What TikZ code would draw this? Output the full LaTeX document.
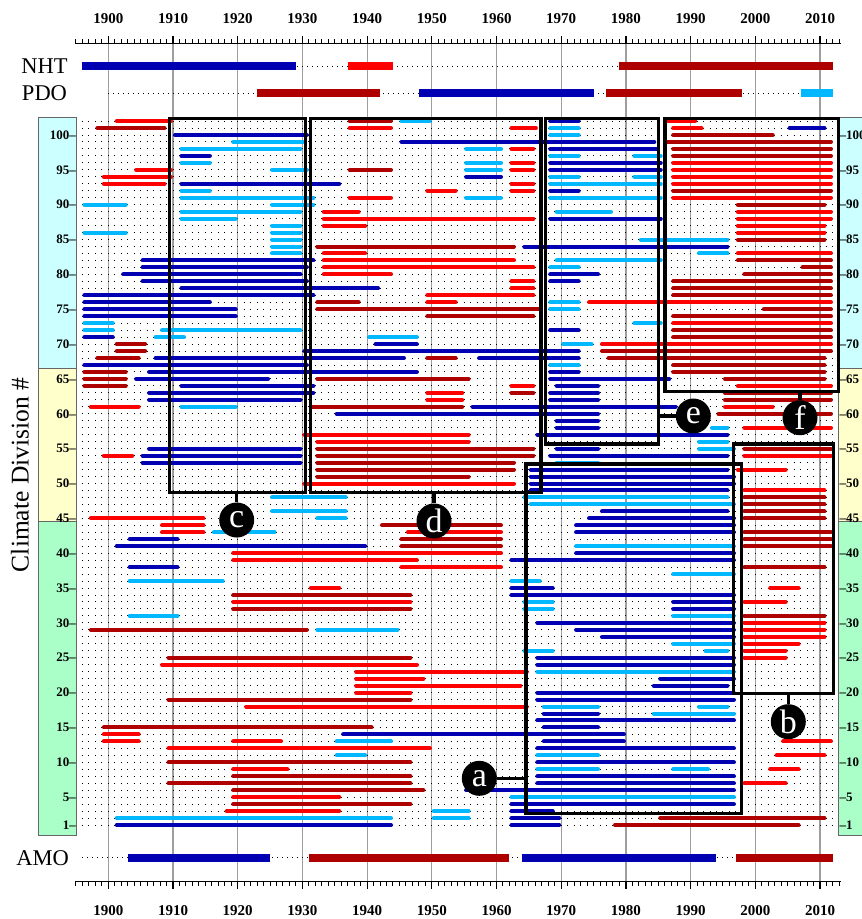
\documentclass[tikz,border=0pt]{standalone}
\usepackage{fontspec}
\setmainfont{Liberation Serif}
\definecolor{cdb}{RGB}{0,0,178}
\definecolor{clb}{RGB}{0,184,255}
\definecolor{cr}{RGB}{255,0,0}
\definecolor{cdr}{RGB}{175,0,0}
\definecolor{scyan}{RGB}{204,255,255}
\definecolor{syel}{RGB}{255,255,204}
\definecolor{sgrn}{RGB}{170,255,200}
\newcommand{\YX}[1]{(108.3+((#1)-1900)*6.47)}
\newcommand{\DY}[1]{(135+(100-(#1))*6.97)}
\begin{document}
\begin{tikzpicture}[x=1pt,y=-1pt,
 bar/.style={line width=4pt,line cap=round},
 dbb/.style={bar,draw=cdb}, lbb/.style={bar,draw=clb}, rb/.style={bar,draw=cr}, drb/.style={bar,draw=cdr},
 ibar/.style={line width=8pt},
 dotrow/.style={line width=1pt,dash pattern=on 1pt off 5.47pt},
 idot/.style={line width=1pt,dash pattern=on 1pt off 4pt},
 gridl/.style={draw=black!38,line width=1.2pt},
 boxl/.style={line width=3.2pt,draw=black},
 lab/.style={circle,fill=black,minimum size=35pt,inner sep=0pt,text=white,font=\fontsize{34}{34}\selectfont},
 yl/.style={font=\bfseries\fontsize{15}{16}\selectfont},
 dl/.style={font=\bfseries\fontsize{13}{13}\selectfont,inner sep=0pt},
 il/.style={font=\fontsize{22.5}{23}\selectfont},
 strip/.style={draw=black!60,line width=1pt}
]
\useasboundingbox (0,0) rectangle (862,919);
\fill[white] (0,0) rectangle (862,919);
% side strips
\filldraw[strip,fill=scyan] (38,117.6) rectangle (76.5,368.5);
\filldraw[strip,fill=syel] (38,368.5) rectangle (76.5,521.5);
\filldraw[strip,fill=sgrn] (38,521.5) rectangle (76.5,835.5);
\filldraw[strip,fill=scyan] (838.3,117.6) rectangle (870,368.5);
\filldraw[strip,fill=syel] (838.3,368.5) rectangle (870,521.5);
\filldraw[strip,fill=sgrn] (838.3,521.5) rectangle (870,835.5);
\foreach \v in {100,95,...,5,1} {
  \node[dl,anchor=east] (L\v) at (76,{\DY{\v}}) {\v–};
  \node[dl,anchor=west] (R\v) at (839.5,{\DY{\v}}) {–\v};
}
\node[il,rotate=90,font=\fontsize{25.5}{26}\selectfont] (cdn) at (20,475) {Climate Division \#};
% grid lines
\foreach \d in {1900,1910,...,2010} \draw[gridl] ({\YX{\d}},43.3) -- ({\YX{\d}},881.7);
% axes
\draw[line width=1.4pt] ({\YX{1894.9}},43.3) -- ({\YX{2013.2}},43.3);
\draw[line width=1.4pt] ({\YX{1894.9}},881.7) -- ({\YX{2013.2}},881.7);
\foreach \t in {1895,...,2013} {
  \draw[line width=1pt] ({\YX{\t}},43.3) -- ({\YX{\t}},39);
  \draw[line width=1pt] ({\YX{\t}},881.7) -- ({\YX{\t}},886);
}
\foreach \d in {1900,1910,...,2010} {
  \draw[line width=1.2pt] ({\YX{\d}},43.3) -- ({\YX{\d}},36);
  \draw[line width=1.2pt] ({\YX{\d}},881.7) -- ({\YX{\d}},889);
  \node[yl] (T\d) at ({\YX{\d}},18.7) {\d};
  \node[yl] (B\d) at ({\YX{\d}},910.5) {\d};
}
% index rows
\node[il] (nht) at (44.5,66) {NHT};
\node[il] (pdo) at (44.5,93) {PDO};
\node[il] (amo) at (42.6,857.7) {AMO};
\draw[idot] ({\YX{1896}},66) -- ({\YX{2012}},66);
\draw[idot] ({\YX{1900}},93) -- ({\YX{2012}},93);
\draw[idot] ({\YX{1896}},857.7) -- ({\YX{2012}},857.7);
\draw[ibar,cdb] ({\YX{1896}},66) -- ({\YX{1929}},66);
\draw[ibar,cr] ({\YX{1937}},66) -- ({\YX{1944}},66);
\draw[ibar,cdr] ({\YX{1979}},66) -- ({\YX{2012}},66);
\draw[ibar,cdr] ({\YX{1923}},93) -- ({\YX{1942}},93);
\draw[ibar,cdb] ({\YX{1948}},93) -- ({\YX{1975}},93);
\draw[ibar,cdr] ({\YX{1977}},93) -- ({\YX{1998}},93);
\draw[ibar,clb] ({\YX{2007}},93) -- ({\YX{2012}},93);
\draw[ibar,cdb] ({\YX{1903}},857.7) -- ({\YX{1925}},857.7);
\draw[ibar,cdr] ({\YX{1931}},857.7) -- ({\YX{1962}},857.7);
\draw[ibar,cdb] ({\YX{1964}},857.7) -- ({\YX{1994}},857.7);
\draw[ibar,cdr] ({\YX{1997}},857.7) -- ({\YX{2012}},857.7);
% dotted rows
\foreach \r in {1,...,102} \draw[dotrow] ({\YX{1896}-0.5},{\DY{\r}}) -- ({\YX{2012}+0.5},{\DY{\r}});
% bars
\foreach \r/\a/\b in {102/1968/1973,101/2005/2011,100/1910/1931,99/1945/1984.7,98/1968/1985,97/1911/1916,96/1968/1985.7,95/1968/1985.7,94/1955/1961,93/1911/1936,92/1968/1973,88/1968/1985.7,84/1964/1996,82/1905/1932,81/1905/1931,80/1902/1930,80/1968/1976,79/1905/1931,79/1968/1973,78/1911/1942,77/1896/1932,76/1896/1916,75/1896/1920,74/1896/1920,72/1968/1973,71/1896/1901,70/1941/1948,69/1930/1973,68/1907/1946,68/1957/1973,67/1896/1931,66/1906/1948,66/1968/1973,65/1904/1925,65/1968/1987,64/1911/1932,64/1969/1976,63/1906/1932,63/1968/1976,62/1906/1930,62/1968/1976,61/1956/1988,60/1935/1976,59/1969/1976,58/1969/1976,57/1966/1996,55/1906/1930,55/1969/1976,54/1905/1930,54/1968/1996,53/1905/1930,52/1965/1996,51/1965/1997,50/1965/1997,49/1965/1996,46/1976/1996,45/1974/1997,44/1972/1997,43/1972/1997,42/1903/1911,41/1901/1940,40/1972/1997,39/1962/1997,38/1903/1911,35/1962/1969,34/1962/1997,33/1987/1997,32/1987/1997,30/1966/1997,29/1972/1997,28/1976/1997,25/1966/1997,24/1966/1997,22/1985/1997,21/1984/1996,20/1966/1997,19/1966/1997,17/1967/1976,16/1966/1997,15/1967/1976,14/1936/1980,13/1967/1980,12/1966/1997,10/1966/1997,8/1966/1997,7/1966/1997,6/1955/1997,4/1962/1997,3/1962/1969,2/1962/1970,1/1901/1944,1/1962/1970}
  \draw[dbb] ({\YX{\a}+2},{\DY{\r}}) -- ({\YX{\b}-2},{\DY{\r}});
\foreach \r/\a/\b in {102/1945/1950,101/1968/1973,100/1968/1973,99/1919/1930.4,98/1911/1930,98/1955/1961,97/1968/1973,97/1981/1985.7,96/1911/1916,96/1955/1961,95/1925/1931,95/1955/1961,94/1968/1973,94/1981/1985.7,93/1968/1985.7,92/1911/1916,91/1911/1932,91/1955/1961,91/1968/1985.7,90/1896/1903,90/1925/1932,89/1911/1930,89/1969/1978,88/1911/1920,87/1925/1930,86/1896/1903,86/1925/1930,85/1925/1930,85/1982/1996,84/1925/1930,83/1925/1930,83/1991/1996,82/1969/1985.7,81/1968/1973,76/1968/1973,75/1968/1973,73/1896/1901,73/1981/1985.7,72/1896/1901,72/1908/1930,71/1907/1912,71/1940/1948,70/1970/1975,67/1968/1973,61/1911/1920,58/1993/1996,56/1991/1996,55/1991/1997,53/1969/1976,48/1925/1937,48/1964/1996,47/1965/1997,46/1925/1937,45/1932/1937,43/1916/1926,41/1972/1997,37/1987/1997,36/1903/1918,36/1962/1967,33/1964/1969,32/1964/1969,31/1903/1911,31/1987/1997,29/1932/1945,27/1987/1997,26/1964/1969,26/1992/1996,23/1966/1997,18/1967/1976,18/1991/1996,17/1984/1997,13/1935/1944,11/1935/1940,11/1966/1976,9/1966/1976,9/1987/1993,5/1962/1997,3/1950/1956,2/1901/1944,2/1950/1956}
  \draw[lbb] ({\YX{\a}+2},{\DY{\r}}) -- ({\YX{\b}-2},{\DY{\r}});
\foreach \r/\a/\b in {102/1901/1910,102/1986/1991,101/1937/1944,101/1962/1966.4,101/1987/1992,98/1962/1966,96/1962/1966,96/1987/2012,95/1904/1910,95/1962/1966,95/1987/2012,94/1899/1910,94/1987/2012,93/1899/1909,93/1962/1966,93/1987/2012,92/1949/1954,92/1962/1966,91/1937/1944,91/1987/2012,89/1933/1939,89/1997/2012,88/1933/1966,88/1997/2012,87/1933/1940,87/1997/2011,86/1997/2011,83/1933/1940,83/1997/2012,82/1933/1963,81/1933/1966,80/1933/1944,79/1962/1966,78/1962/1966,77/1949/1966,76/1949/1954,76/1974/2012,73/1987/2012,70/1976/2012,64/1962/1966,64/1997/2012,63/1949/1955,62/1949/1955,61/1897/1905,61/1995/2003,58/1998/2012,57/1930/1956,56/1932/1956,54/1899/1904,54/1998/2012,52/1997/2005,50/1930/1963,49/1998/2011,45/1897/1915,44/1908/1915,43/1908/1915,43/1946/1961,40/1919/1961,39/1919/1948,38/1945/1961,35/1931/1936,35/2002/2007,33/1919/1947,33/1998/2005,30/1998/2011,29/1998/2011,28/1998/2011,27/1998/2007,26/1998/2005,25/1998/2005,24/1908/1948,23/1938/1965,22/1938/1949,21/1938/1964,20/1938/1947,18/1921/1965,14/1899/1905,13/1899/1905,13/1919/1927,13/2004/2012,12/1909/1950,11/2003/2011,9/1919/1928,9/2002/2007,7/1998/2005,5/1919/1936,3/1918/1936}
  \draw[rb] ({\YX{\a}+2},{\DY{\r}}) -- ({\YX{\b}-2},{\DY{\r}});
\foreach \r/\a/\b in {102/1937/1944,101/1898/1909,100/1987/2003,99/1986/2012,98/1987/2012,97/1987/2012,95/1937/1944,92/1987/2012,90/1997/2011,85/1997/2011,84/1932/1963,82/1997/2012,81/2007/2012,80/1998/2012,79/1987/2012,78/1987/2012,77/1987/2012,76/1932/1939,75/1932/1967,75/2001/2012,74/1949/1966,74/1987/2012,72/1987/2012,71/1987/2012,70/1901/1906,69/1901/1906,69/1976/2012,68/1898/1905,68/1949/1954,68/1977/2011,67/1987/2011,66/1896/1903,66/1987/2011,65/1896/1903,65/1932/1956,65/1995/2011,64/1896/1903,63/1962/1966,63/1995/2012,62/1995/2012,61/1931/1955,60/1994/2012,55/1932/1966,55/1998/2012,54/1932/1966,53/1932/1963,52/1932/1963,51/1932/1956,48/1998/2011,47/1998/2011,46/1998/2011,45/1998/2011,44/1942/1961,43/1998/2012,42/1945/1961,42/1998/2012,41/1945/1961,41/1998/2012,38/1998/2011,34/1919/1947,32/1919/1947,31/1998/2011,29/1897/1931,25/1909/1947,19/1909/1947,15/1899/1941,10/1909/1947,8/1919/1947,7/1909/1947,6/1919/1949,4/1919/1947,2/1985/2011,1/1978/2007}
  \draw[drb] ({\YX{\a}+2},{\DY{\r}}) -- ({\YX{\b}-2},{\DY{\r}});
% boxes
\draw[boxl] (169.3,118.3) rectangle (305.4,492.7);
\draw[boxl] (310.3,118.3) rectangle (541,492.7);
\draw[boxl] (545.6,118.3) rectangle (658.3,444);
\draw[boxl] (665,118.3) rectangle (838.3,391.7);
\draw[boxl] (526,464) rectangle (741.7,813.3);
\draw[boxl] (733.5,444) rectangle (833.5,693.3);
\coordinate (pc) at (236.7,492.7);
\coordinate (pd) at (434,492.7);
\coordinate (pe) at (658.3,416);
\coordinate (pf) at (800,391.7);
\coordinate (pa) at (526,778.3);
\coordinate (pb) at (788.3,693.3);
\node[lab] (ca) at (479.3,778.3) {a};
\node[lab] (cb) at (788.3,721.7) {b};
\node[lab] (cc) at (236.7,520) {c};
\node[lab] (cd) at (434,521) {d};
\node[lab] (ce) at (693.3,416) {e};
\node[lab] (cf) at (800,417.7) {f};
\draw[boxl] (pa) -- (ca);
\draw[boxl] (pb) -- (cb);
\draw[boxl] (pc) -- (cc);
\draw[boxl] (pd) -- (cd);
\draw[boxl] (pe) -- (ce);
\draw[boxl] (pf) -- (cf);
\end{tikzpicture}
\end{document}
